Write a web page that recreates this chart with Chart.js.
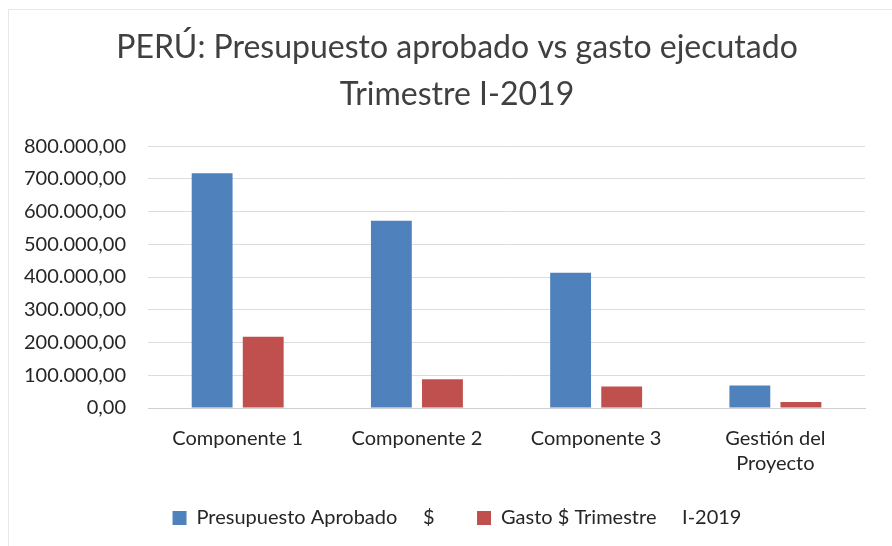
<!DOCTYPE html>
<html>
<head>
<meta charset="utf-8">
<script src="https://cdn.jsdelivr.net/npm/chart.js@4"></script>
<style>
  html, body { margin: 0; padding: 0; background: #fff; }
  #wrap { width: 892px; height: 546px; position: relative; }
  #frame { position: absolute; left: 8px; top: 9px; right: -2px; bottom: -2px; border: 1px solid #e8e8e8; }
</style>
</head>
<body>
<div id="wrap"><div id="frame"></div><canvas id="chart" width="892" height="546" style="position:relative"></canvas></div>
<script>
const categories = ['Componente 1', 'Componente 2', 'Componente 3', ['Gestión del', 'Proyecto']];
const presupuesto = [717000, 572000, 413000, 69000];
const gasto = [218000, 88000, 66000, 18000];
const titleLines = ['PERÚ: Presupuesto aprobado vs gasto ejecutado', 'Trimestre I-2019'];

// 800.000,00 style
function fmt(v) {
  const parts = Math.round(v).toString().replace(/\B(?=(\d{3})+(?!\d))/g, '.');
  return parts + ',00';
}

const ctx = document.getElementById('chart').getContext('2d');
const myChart = new Chart(ctx, {
  type: 'bar',
  data: {
    labels: categories,
    datasets: [{
      label: 'Presupuesto Aprobado     $    ',
      data: presupuesto,
      backgroundColor: '#4F81BD',
      borderWidth: 0
    }, {
      label: 'Gasto $ Trimestre     I-2019',
      data: gasto,
      backgroundColor: '#C0504D',
      borderWidth: 0
    }]
  },
  options: {
    responsive: false,
    animation: false,
    // title and legend sit a bit right of centre in the original
    layout: { padding: { left: 2, right: -20, top: 24, bottom: 8 } },
    datasets: {
      bar: { categoryPercentage: 0.57, barPercentage: 0.8 }
    },
    plugins: {
      title: {
        display: true,
        text: titleLines,
        color: '#404040',
        font: { family: 'Lato', size: 32, weight: 'normal', lineHeight: 1.47 },
        padding: { top: 0, bottom: 28 }
      },
      legend: {
        position: 'bottom',
        labels: {
          color: '#262626',
          font: { family: 'Lato', size: 20 },
          boxWidth: 14,
          boxHeight: 14,
          padding: 22
        }
      },
      tooltip: { enabled: false }
    },
    scales: {
      x: {
        grid: { display: false },
        border: { color: '#d0d0d0' },
        ticks: {
          color: '#262626',
          font: { family: 'Lato', size: 20, lineHeight: 1.25 },
          maxRotation: 0,
          padding: 10
        }
      },
      y: {
        min: 0,
        max: 800000,
        grid: { color: '#dcdcdc', drawTicks: false },
        border: { display: false },
        ticks: {
          stepSize: 100000,
          color: '#262626',
          font: { family: 'Lato', size: 20 },
          padding: 22,
          callback: v => fmt(v)
        }
      },
      // empty spacer on the right
      yRight: {
        type: 'linear',
        position: 'right',
        grid: { display: false },
        border: { display: false },
        ticks: { display: false },
        afterFit: s => { s.width = 47; }
      }
    }
  }
});
</script>
</body>
</html>
